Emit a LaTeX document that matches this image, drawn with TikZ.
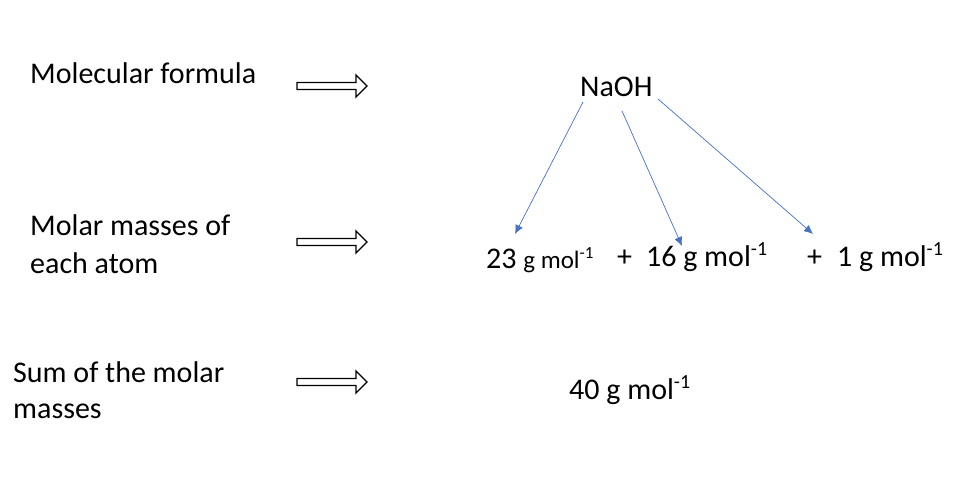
\documentclass[tikz,border=0pt]{standalone}
\usepackage{fontspec}
\usetikzlibrary{arrows.meta}
\setmainfont{Carlito}
\newcommand\supx[2]{\raisebox{#1}{\fontsize{#2}{#2}\selectfont -1}}
\begin{document}
\begin{tikzpicture}[x=1pt,y=-1pt,
  lbl/.style={inner sep=0pt,font=\fontsize{30}{36}\selectfont,anchor=base west},
  val/.style={inner sep=0pt,font=\fontsize{30}{36}\selectfont,anchor=base west},
  conn/.style={draw={rgb,255:red,68;green,114;blue,196},line width=0.7pt,-{Latex[length=9pt,width=8pt]}},
  blockarrow/.style={draw=black,line width=1.3pt,fill=white}]
\useasboundingbox (0,0) rectangle (974,493);
% left labels
\node[lbl] (mf) at (30,83) {Molecular formula};
\node[lbl] (mm1) at (30,235) {Molar masses of};
\node[lbl] (mm2) at (30,273) {each atom};
\node[lbl] (sm1) at (13,382) {Sum of the molar};
\node[lbl] (sm2) at (13,418) {masses};
% block arrows
\foreach \yy in {86,242,382}{
  \draw[blockarrow] (297,\yy-3.5) -- (356,\yy-3.5) -- (356,\yy-11) -- (367,\yy) -- (356,\yy+11) -- (356,\yy+3.5) -- (297,\yy+3.5) -- cycle;
}
% right side
\node[val] (naoh) at (580,96) {NaOH};
\node[val] (v23) at (486,268) {23 {\fontsize{25}{29}\selectfont g mol\supx{10pt}{17}}};
\node[val] (v16) at (617,266) {+\hspace{14pt}16 g mol\supx{11pt}{20}};
\node[val] (v1) at (807,266) {+\hspace{15pt}1 g mol\supx{11pt}{20}};
\node[val] (v40) at (569,399) {40 g mol\supx{11pt}{20}};
% connector endpoints
\coordinate (s1) at (583,102);
\coordinate (e1) at (515,234);
\coordinate (s2) at (622,111);
\coordinate (e2) at (682,246);
\coordinate (s3) at (658,99);
\coordinate (e3) at (813,234);
\draw[conn] (s1) -- (e1);
\draw[conn] (s2) -- (e2);
\draw[conn] (s3) -- (e3);
\end{tikzpicture}
\end{document}
